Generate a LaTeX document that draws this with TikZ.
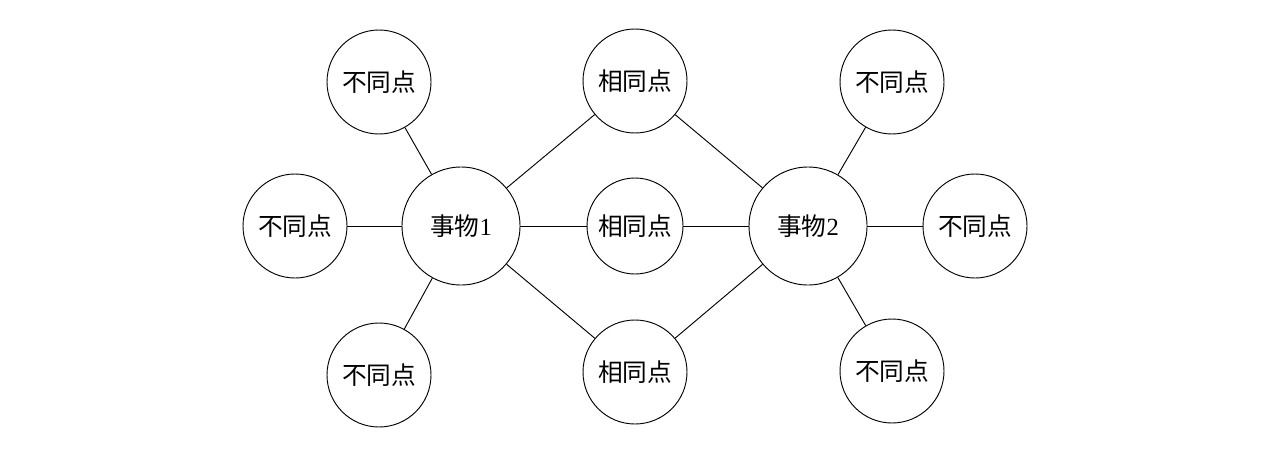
\documentclass[tikz,border=0pt]{standalone}
\usepackage{fontspec}
\setmainfont{Liberation Serif}
\newfontfamily\cjk{Noto Sans CJK SC}
\usepackage{tikz}

\begin{document}
\begin{tikzpicture}[
  x=0.75pt, y=-0.75pt,
  bubble/.style={draw, circle, line width=0.7pt, inner sep=0pt, minimum size=78pt, font=\fontsize{18.5}{22}\selectfont},
  thing/.style={bubble, minimum size=88.5pt},
  link/.style={line width=0.7pt},
]
\useasboundingbox (0,0) rectangle (1269,457);
\node[thing] (t1) at (461,226) {{\cjk 事物}1};
\node[thing] (t2) at (808,226) {{\cjk 事物}2};
\node[bubble] (s1) at (635,81) {\cjk 相同点};
\node[bubble, minimum size=72pt] (s2) at (635,226) {\cjk 相同点};
\node[bubble] (s3) at (635,372) {\cjk 相同点};
\node[bubble] (d1) at (379,82) {\cjk 不同点};
\node[bubble] (d2) at (295,226) {\cjk 不同点};
\node[bubble] (d3) at (379,375) {\cjk 不同点};
\node[bubble] (d4) at (892,82) {\cjk 不同点};
\node[bubble] (d5) at (975,226) {\cjk 不同点};
\node[bubble] (d6) at (892,371) {\cjk 不同点};
\foreach \s in {s1,s2,s3} {
  \draw[link] (t1) -- (\s);
  \draw[link] (\s) -- (t2);
}
\foreach \d in {d1,d2,d3} \draw[link] (t1) -- (\d);
\foreach \d in {d4,d5,d6} \draw[link] (t2) -- (\d);
\end{tikzpicture}
\end{document}
